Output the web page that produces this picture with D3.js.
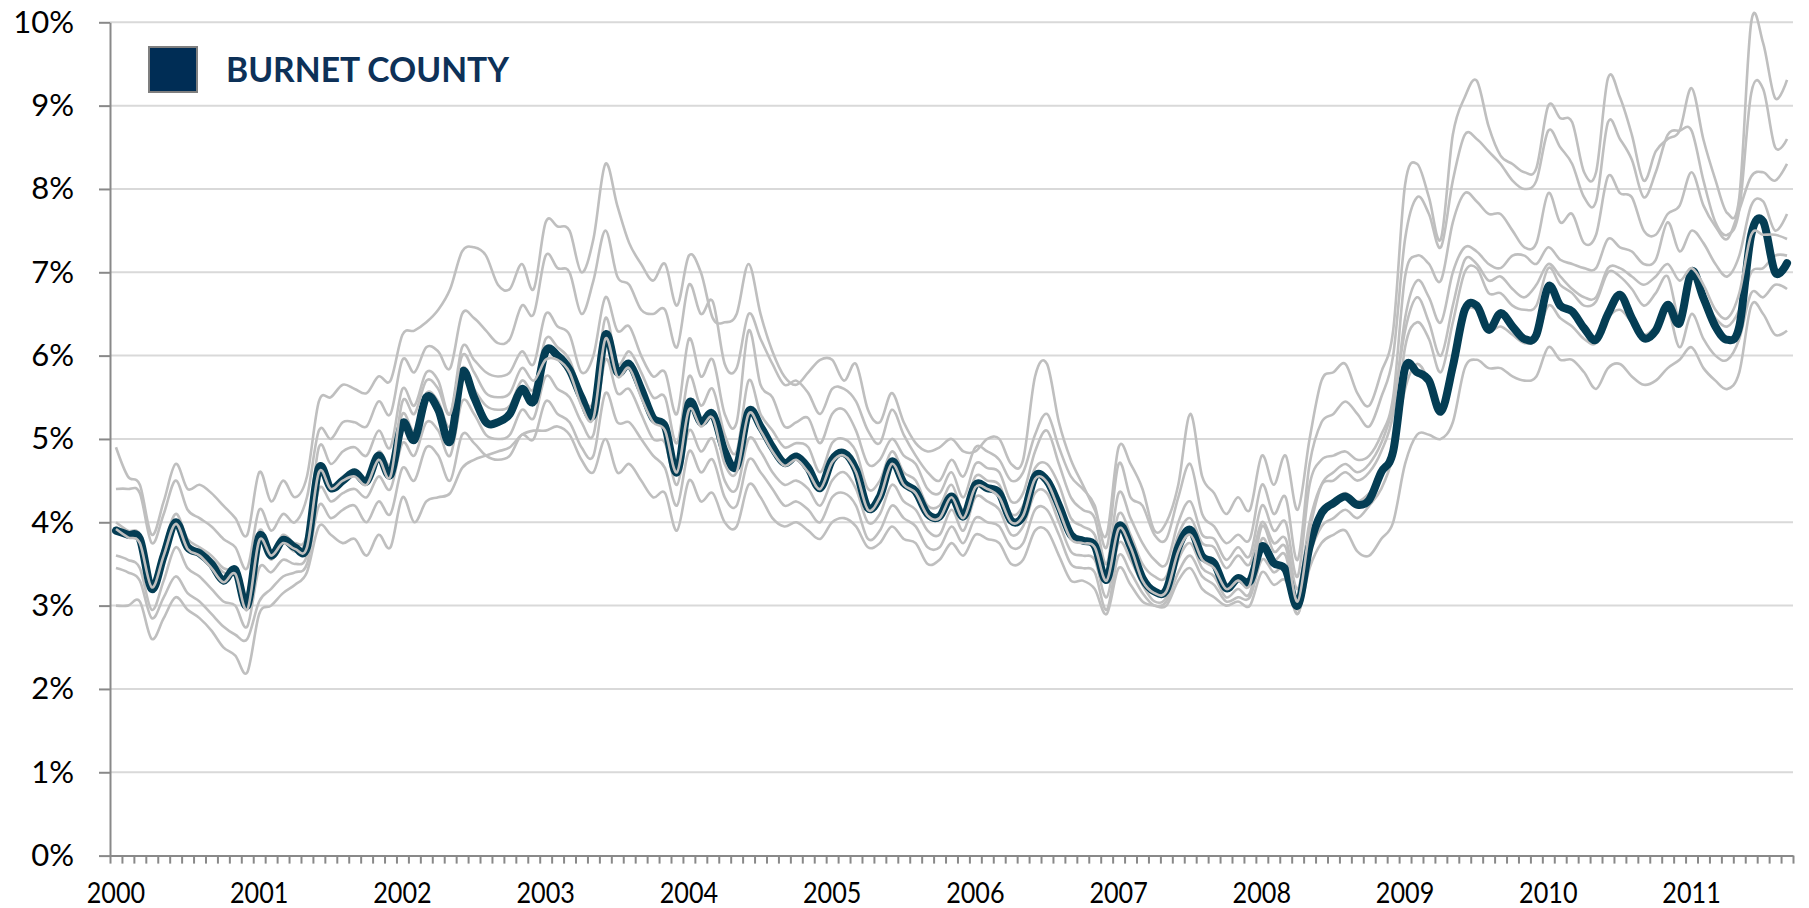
<!DOCTYPE html>
<meta charset="utf-8">
<style>
body { margin: 0; background: #fff; }
svg { display: block; font-family: Lato, 'Open Sans', sans-serif; }
.grid line { stroke: #d9d9d9; stroke-width: 2; }
.axis path, .axis line { stroke: #898989; stroke-width: 2; }
.axis text { fill: #000; }
</style>
<svg width="1809" height="908"></svg>
<script src="https://d3js.org/d3.v7.min.js"></script>
<script>
// monthly unemployment rate, Jan 2000 - Sep 2011
var yearLabels = ["2000", "2001", "2002", "2003", "2004", "2005", "2006", "2007", "2008", "2009", "2010", "2011"];
var yTicks = [0, 1, 2, 3, 4, 5, 6, 7, 8, 9, 10];
var legendLabel = "BURNET COUNTY";

var burnet = [
  3.9, 3.85, 3.8, 3.2, 3.6, 4.0, 3.7, 3.63, 3.5, 3.3, 3.43, 3.0,
  3.83, 3.6, 3.79, 3.7, 3.7, 4.65, 4.41, 4.5, 4.6, 4.49, 4.8, 4.57,
  5.19, 4.99, 5.5, 5.35, 4.97, 5.8, 5.5, 5.2, 5.2, 5.3, 5.6, 5.45,
  6.05, 6.0, 5.83, 5.5, 5.3, 6.25, 5.8, 5.9, 5.6, 5.25, 5.15, 4.6,
  5.43, 5.2, 5.3, 4.85, 4.67, 5.33, 5.15, 4.9, 4.71, 4.79, 4.65, 4.41,
  4.75, 4.83, 4.63, 4.17, 4.31, 4.73, 4.47, 4.37, 4.1, 4.07, 4.31, 4.07,
  4.45, 4.41, 4.35, 4.02, 4.08, 4.55, 4.5, 4.2, 3.85, 3.78, 3.72, 3.31,
  3.95, 3.71, 3.33, 3.17, 3.19, 3.7, 3.91, 3.59, 3.51, 3.21, 3.33, 3.29,
  3.71, 3.51, 3.43, 3.0, 3.71, 4.11, 4.23, 4.31, 4.21, 4.27, 4.6, 4.85,
  5.85, 5.8, 5.7, 5.33, 5.87, 6.55, 6.6, 6.31, 6.51, 6.35, 6.2, 6.25,
  6.83, 6.6, 6.53, 6.33, 6.19, 6.5, 6.73, 6.45, 6.21, 6.3, 6.61, 6.39,
  7.01, 6.69, 6.35, 6.19, 6.35, 7.45, 7.61, 7.0, 7.11
];

var other1 = [
  4.9, 4.55, 4.45, 3.85, 4.25, 4.7, 4.4, 4.45, 4.35, 4.2, 4.05, 3.85,
  4.6, 4.25, 4.5, 4.3, 4.55, 5.45, 5.5, 5.65, 5.6, 5.55, 5.75, 5.7,
  6.25, 6.3, 6.4, 6.55, 6.8, 7.25, 7.3, 7.2, 6.85, 6.8, 7.1, 6.8,
  7.6, 7.55, 7.5, 7.0, 7.4, 8.3, 7.8, 7.35, 7.1, 6.9, 7.1, 6.6,
  7.2, 7.0, 6.45, 6.4, 6.5, 7.1, 6.5, 6.05, 5.75, 5.65, 5.8, 5.95,
  5.95, 5.7, 5.9, 5.35, 5.2, 5.55, 5.2, 4.95, 4.85, 4.9, 5.0, 4.85,
  4.85, 5.0, 5.0, 4.7, 4.75, 5.75, 5.9, 5.2, 4.75, 4.45, 4.15, 3.85,
  4.9, 4.7, 4.4, 3.9, 4.0, 4.45, 5.3, 4.55, 4.35, 4.1, 4.3, 4.15,
  4.8, 4.45, 4.8, 4.15, 5.0, 5.7, 5.8, 5.9, 5.55, 5.4, 5.8, 6.3,
  8.05, 8.3, 7.9, 7.4, 8.65, 9.1, 9.3, 8.75, 8.4, 8.3, 8.2, 8.25,
  9.0, 8.85, 8.8, 8.2, 8.2, 9.33, 9.1, 8.65, 8.1, 8.45, 8.6, 8.7,
  9.21, 8.59, 8.11, 7.71, 7.9, 10.0, 9.75, 9.09, 9.31
];

var other2 = [
  4.4, 4.4, 4.35, 3.75, 4.1, 4.5, 4.15, 4.05, 3.95, 3.8, 3.7, 3.45,
  4.15, 3.9, 4.1, 4.0, 4.3, 5.1, 5.0, 5.2, 5.2, 5.15, 5.45, 5.3,
  5.95, 5.8, 6.1, 6.05, 5.85, 6.5, 6.45, 6.3, 6.15, 6.2, 6.6, 6.5,
  7.2, 7.05, 7.0, 6.5, 6.9, 7.5, 6.95, 6.85, 6.55, 6.5, 6.55, 6.1,
  6.85, 6.5, 6.65, 5.9, 5.85, 6.5, 6.2, 5.9, 5.65, 5.7, 5.55, 5.3,
  5.6, 5.6, 5.45, 5.1, 4.95, 5.35, 5.05, 4.8, 4.6, 4.5, 4.75, 4.55,
  4.9, 4.85, 4.75, 4.5, 4.6, 5.05, 5.3, 4.9, 4.55, 4.4, 4.2, 3.7,
  4.7, 4.3, 4.2, 3.85, 3.8, 4.3, 4.7, 4.1, 3.95, 3.75, 3.85, 3.8,
  4.45, 4.1, 4.3, 3.55, 4.7, 5.2, 5.3, 5.45, 5.3, 5.15, 5.5, 6.0,
  7.4, 7.9, 7.7, 7.3, 8.1, 8.65, 8.6, 8.45, 8.3, 8.1, 8.0, 8.1,
  8.7, 8.5, 8.3, 7.9, 7.85, 8.8, 8.6, 8.35, 7.9, 8.2, 8.65, 8.7,
  8.7, 8.1, 7.6, 7.45, 7.75, 9.15, 9.2, 8.5, 8.6
];

var other3 = [
  4.0, 3.9, 3.85, 3.3, 3.7, 4.1, 3.8, 3.7, 3.6, 3.45, 3.4, 3.15,
  3.9, 3.65, 3.85, 3.75, 3.85, 4.9, 4.7, 4.85, 4.9, 4.8, 5.1, 4.9,
  5.6, 5.4, 5.8, 5.7, 5.3, 6.1, 5.95, 5.8, 5.75, 5.8, 6.05, 5.9,
  6.5, 6.35, 6.25, 5.8, 6.0, 6.7, 6.3, 6.35, 6.0, 5.75, 5.8, 5.3,
  6.2, 5.75, 5.95, 5.3, 5.2, 6.3, 5.65, 5.5, 5.15, 5.2, 5.25, 4.95,
  5.3, 5.35, 5.1, 4.7, 4.75, 5.0, 4.8, 4.7, 4.4, 4.35, 4.6, 4.3,
  4.7, 4.65, 4.6, 4.25, 4.35, 4.85, 5.1, 4.7, 4.3, 4.15, 4.05, 3.5,
  4.35, 4.05, 3.75, 3.55, 3.5, 4.0, 4.25, 3.85, 3.8, 3.55, 3.7, 3.6,
  4.2, 3.9, 4.0, 3.35, 4.45, 4.75, 4.8, 4.85, 4.75, 4.8, 5.05, 5.5,
  6.95, 7.2, 7.1, 6.9, 7.6, 7.95, 7.85, 7.7, 7.7, 7.5, 7.3, 7.35,
  7.95, 7.6, 7.7, 7.35, 7.45, 8.15, 7.95, 7.9, 7.5, 7.45, 7.7, 7.8,
  8.2, 7.8, 7.55, 7.4, 7.75, 8.15, 8.2, 8.1, 8.3
];

var other4 = [
  3.95, 3.85, 3.8, 3.25, 3.65, 4.0, 3.75, 3.65, 3.55, 3.4, 3.35, 3.05,
  3.75, 3.55, 3.75, 3.65, 3.8, 4.55, 4.4, 4.55, 4.6, 4.5, 4.85, 4.7,
  5.3, 5.1, 5.55, 5.45, 5.15, 5.85, 5.6, 5.4, 5.35, 5.4, 5.7, 5.6,
  6.2, 6.1, 5.95, 5.55, 5.45, 6.45, 5.9, 6.05, 5.8, 5.5, 5.5, 4.95,
  5.75, 5.4, 5.6, 5.05, 4.85, 5.7, 5.3, 5.1, 4.9, 4.95, 4.9, 4.6,
  4.95, 5.0, 4.85, 4.4, 4.5, 4.85, 4.6, 4.5, 4.2, 4.2, 4.45, 4.15,
  4.55, 4.5, 4.45, 4.1, 4.2, 4.65, 4.7, 4.45, 4.05, 3.95, 3.85, 3.4,
  4.1, 3.85, 3.5, 3.35, 3.35, 3.85, 4.05, 3.75, 3.7, 3.45, 3.6, 3.5,
  4.0, 3.75, 3.8, 3.2, 4.0, 4.45, 4.5, 4.6, 4.5, 4.6, 4.85, 5.3,
  6.45, 6.9, 6.7, 6.4, 7.0, 7.3, 7.25, 7.1, 7.05, 7.2, 7.2, 7.1,
  7.3, 7.15, 7.1, 7.05, 7.05, 7.4, 7.3, 7.25, 7.1, 7.15, 7.6, 7.25,
  7.5, 7.35, 7.1, 6.95, 7.2, 7.8, 7.85, 7.5, 7.7
];

// this county runs on top of Burnet for long stretches
var other5 = [
  3.92, 3.82, 3.75, 3.22, 3.6, 3.98, 3.68, 3.6, 3.45, 3.28, 3.38, 2.95,
  3.78, 3.6, 3.75, 3.68, 3.7, 4.6, 4.4, 4.5, 4.55, 4.45, 4.75, 4.55,
  5.45, 5.3, 5.7, 5.6, 5.3, 6.0, 5.8, 5.55, 5.5, 5.55, 5.85, 5.7,
  5.95, 5.95, 5.8, 5.4, 5.25, 6.2, 5.75, 5.85, 5.5, 5.2, 5.1, 4.6,
  5.35, 5.15, 5.25, 4.7, 4.6, 5.3, 5.1, 4.85, 4.68, 4.75, 4.6, 4.4,
  4.72, 4.8, 4.6, 4.15, 4.3, 4.7, 4.45, 4.35, 4.08, 4.05, 4.3, 4.05,
  4.42, 4.4, 4.3, 4.0, 4.08, 4.52, 4.48, 4.15, 3.8, 3.75, 3.7, 3.3,
  3.92, 3.7, 3.3, 3.15, 3.17, 3.65, 3.85, 3.55, 3.45, 3.2, 3.3, 3.25,
  3.95, 3.65, 3.7, 3.05, 3.9, 4.45, 4.6, 4.7, 4.6, 4.7, 4.95, 5.4,
  6.3, 6.7, 6.4, 6.0, 6.6, 7.15, 7.1, 6.9, 6.95, 6.8, 6.7, 6.85,
  7.1, 6.95, 6.8, 6.7, 6.7, 7.05, 7.05, 6.95, 6.85, 6.95, 7.1, 6.9,
  7.05, 6.85, 6.55, 6.45, 6.75, 7.45, 7.45, 7.45, 7.4
];

var other6 = [
  3.6, 3.55, 3.45, 2.95, 3.3, 3.7, 3.45, 3.35, 3.2, 3.05, 3.0, 2.75,
  3.45, 3.4, 3.55, 3.5, 3.6, 4.4, 4.25, 4.35, 4.4, 4.3, 4.55, 4.4,
  4.95, 4.8, 5.2, 5.1, 4.8, 5.45, 5.3, 5.05, 5.0, 5.05, 5.35, 5.25,
  5.75, 5.6, 5.5, 5.2, 5.05, 5.95, 5.55, 5.6, 5.3, 5.0, 4.95, 4.45,
  5.1, 4.85, 5.0, 4.5, 4.4, 5.0, 4.85, 4.6, 4.45, 4.5, 4.4, 4.2,
  4.5, 4.6, 4.4, 4.0, 4.1, 4.45, 4.25, 4.15, 3.9, 3.85, 4.15, 3.9,
  4.3, 4.25, 4.15, 3.85, 3.95, 4.35, 4.35, 4.0, 3.65, 3.6, 3.55, 3.1,
  3.75, 3.55, 3.25, 3.05, 3.1, 3.55, 3.75, 3.45, 3.35, 3.1, 3.2, 3.15,
  3.8, 3.55, 3.6, 2.95, 3.7, 4.15, 4.25, 4.35, 4.25, 4.35, 4.55, 4.9,
  6.1, 6.4, 6.2, 5.8, 6.4, 7.0, 7.05, 6.75, 6.75, 6.6, 6.55, 6.6,
  7.05, 6.85, 6.75, 6.6, 6.65, 7.0, 6.95, 6.8, 6.6, 6.75, 6.95, 6.45,
  6.95, 6.65, 6.45, 6.35, 6.55, 7.0, 7.05, 7.2, 7.2
];

var other7 = [
  3.45, 3.4, 3.3, 2.85, 3.1, 3.35, 3.15, 3.05, 2.9, 2.75, 2.65, 2.6,
  3.05, 3.2, 3.35, 3.4, 3.5, 4.2, 4.05, 4.15, 4.2, 4.0, 4.25, 4.1,
  4.65, 4.5, 4.9, 4.8, 4.5, 5.05, 4.95, 4.8, 4.75, 4.8, 5.05, 5.0,
  5.45, 5.3, 5.2, 4.9, 4.8, 5.55, 5.2, 5.2, 5.0, 4.8, 4.65, 4.2,
  4.85, 4.6, 4.75, 4.3, 4.2, 4.75, 4.6, 4.4, 4.2, 4.25, 4.15, 4.0,
  4.3, 4.35, 4.2, 3.8, 3.9, 4.2, 4.05, 3.95, 3.7, 3.7, 3.95, 3.75,
  4.05, 4.0, 3.95, 3.7, 3.75, 4.15, 4.15, 3.85, 3.5, 3.45, 3.4, 2.95,
  3.6, 3.4, 3.15, 3.0, 3.05, 3.4, 3.6, 3.35, 3.25, 3.05, 3.1, 3.1,
  3.55, 3.4, 3.45, 2.9, 3.6, 3.95, 4.05, 4.15, 4.05, 4.2, 4.4, 4.8,
  5.6, 5.9, 5.7, 5.4, 5.9, 6.5, 6.55, 6.3, 6.35, 6.25, 6.15, 6.2,
  6.6, 6.45, 6.35, 6.2, 6.15, 6.45, 6.55, 6.4, 6.25, 6.35, 6.55, 6.1,
  6.5, 6.2, 6.0, 5.95, 6.2, 6.75, 6.7, 6.85, 6.8
];

var other8 = [
  3.0, 3.0, 3.05, 2.6, 2.85, 3.1, 2.95, 2.85, 2.7, 2.5, 2.4, 2.2,
  2.9, 3.0, 3.15, 3.25, 3.4, 3.95, 3.85, 3.75, 3.8, 3.6, 3.85, 3.7,
  4.3, 4.0, 4.25, 4.3, 4.35, 4.65, 4.75, 4.8, 4.85, 4.9, 5.05, 5.1,
  5.1, 5.15, 5.05, 4.75, 4.6, 5.0, 4.6, 4.7, 4.5, 4.3, 4.35, 3.9,
  4.5, 4.25, 4.35, 4.0, 3.95, 4.45, 4.3, 4.05, 3.95, 4.0, 3.9, 3.8,
  4.0, 4.05, 3.95, 3.7, 3.75, 3.95, 3.8, 3.75, 3.5, 3.55, 3.75, 3.6,
  3.85, 3.8, 3.75, 3.5, 3.55, 3.9, 3.9, 3.6, 3.3, 3.3, 3.2, 2.9,
  3.45, 3.25, 3.05, 3.0, 3.0, 3.3, 3.45, 3.2, 3.1, 3.0, 3.05, 3.0,
  3.4, 3.25, 3.3, 2.9, 3.45, 3.75, 3.85, 3.9, 3.65, 3.6, 3.8, 4.0,
  4.7, 5.05, 5.05, 5.0, 5.2, 5.85, 5.95, 5.85, 5.85, 5.75, 5.7, 5.75,
  6.1, 5.95, 5.95, 5.8, 5.6, 5.85, 5.9, 5.75, 5.65, 5.7, 5.85, 5.95,
  6.1, 5.85, 5.7, 5.6, 5.8, 6.6, 6.5, 6.25, 6.3
];

var svg = d3.select("svg"),
    margin = {top: 22.3, right: 16, bottom: 52.4, left: 110},
    width = +svg.attr("width") - margin.left - margin.right,
    height = +svg.attr("height") - margin.top - margin.bottom,
    g = svg.append("g").attr("transform", "translate(" + margin.left + "," + margin.top + ")");

var n = burnet.length;

// one band per month, ticks sit on the band edges like excel
var x = d3.scaleBand().domain(d3.range(n)).range([0, width]);
var xEdge = d3.scaleLinear().domain([0, n]).range([0, width]);
var y = d3.scaleLinear().domain([0, 10]).range([height, 0]);

g.append("g")
    .attr("class", "grid")
  .selectAll("line")
  .data(yTicks.slice(1))
  .enter().append("line")
    .attr("x1", 0)
    .attr("x2", width)
    .attr("y1", y)
    .attr("y2", y);

var line = d3.line()
    .x(function(d, i) { return x(i) + x.bandwidth() / 2; })
    .y(function(d) { return y(d); })
    .curve(d3.curveCardinal);

var greyUnder = [other1, other2, other3, other4, other6, other7, other8];

g.append("g")
  .selectAll("path")
  .data(greyUnder)
  .enter().append("path")
    .attr("d", line)
    .attr("fill", "none")
    .attr("stroke", "#bfbfbf")
    .attr("stroke-width", 2.6)
    .attr("stroke-linejoin", "round");

g.append("path")
    .datum(burnet)
    .attr("d", line)
    .attr("fill", "none")
    .attr("stroke", "#043d54")
    .attr("stroke-width", 8)
    .attr("stroke-linejoin", "round")
    .attr("stroke-linecap", "round");

g.append("path")
    .datum(other5)
    .attr("d", line)
    .attr("fill", "none")
    .attr("stroke", "#bfbfbf")
    .attr("stroke-width", 2.6);

// axes
g.append("g")
    .attr("class", "axis")
    .attr("transform", "translate(0," + height + ")")
    .call(d3.axisBottom(xEdge).tickValues(d3.range(n + 1)).tickSize(8).tickSizeOuter(0).tickFormat(""));

g.append("g")
    .attr("class", "axis")
    .call(d3.axisLeft(y).tickValues(yTicks).tickSize(11).tickSizeOuter(0).tickPadding(25)
      .tickFormat(function(d) { return d + "%"; }))
    .call(function(a) { a.selectAll("text").attr("font-size", 31).attr("font-family", "Lato, sans-serif"); });

g.append("g")
  .selectAll("text")
  .data(yearLabels)
  .enter().append("text")
    .attr("transform", function(d, i) {
      return "translate(" + (x(i * 12) + x.bandwidth() / 2) + "," + (height + 47.5) + ") scale(0.9,1)";
    })
    .attr("text-anchor", "middle")
    .attr("font-size", 28)
    .attr("fill", "#000")
    .text(function(d) { return d; });

// legend
var legend = svg.append("g");

legend.append("rect")
    .attr("x", 149)
    .attr("y", 47)
    .attr("width", 48)
    .attr("height", 45)
    .attr("fill", "#002d55")
    .attr("stroke", "#7f7f7f")
    .attr("stroke-width", 2);

legend.append("text")
    .attr("x", 226)
    .attr("y", 81.7)
    .attr("font-size", 34)
    .attr("font-weight", "bold")
    .attr("fill", "#0d3158")
    .attr("textLength", 283)
    .attr("lengthAdjust", "spacingAndGlyphs")
    .text(legendLabel);
</script>
